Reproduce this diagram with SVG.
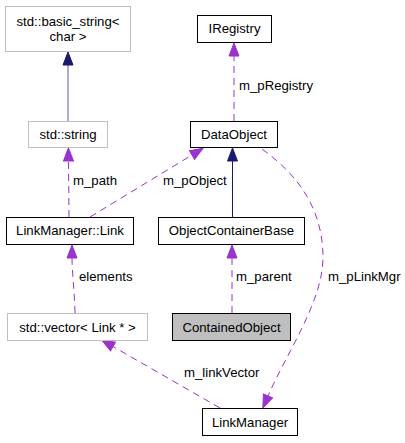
<svg xmlns="http://www.w3.org/2000/svg" width="405" height="443" viewBox="0 0 405 443">
<style>
text{font-family:"Liberation Sans",Arial,sans-serif;font-size:13.2px;fill:#000}
.n text{text-anchor:middle}
.box{fill:#fff;stroke:#000;stroke-width:1}
.gbox{fill:#fff;stroke:#bfbfbf;stroke-width:1}
.sel{fill:#bfbfbf;stroke:#000;stroke-width:1}
.use{fill:none;stroke:#9a32cd;stroke-width:1;stroke-dasharray:7,5;marker-end:url(#pa)}
.inh{fill:none;stroke:#191970;stroke-width:1;marker-end:url(#na)}
</style>
<defs>
<marker id="pa" markerUnits="userSpaceOnUse" markerWidth="14" markerHeight="11" refX="0" refY="5" orient="auto" overflow="visible"><path d="M0,0 L13,5 L0,10 z" fill="#9a32cd" stroke="#9a32cd" stroke-width="1"/></marker>
<marker id="na" markerUnits="userSpaceOnUse" markerWidth="14" markerHeight="11" refX="0" refY="5" orient="auto" overflow="visible"><path d="M0,0 L13,5 L0,10 z" fill="#191970" stroke="#191970" stroke-width="1"/></marker>
</defs>
<g id="connectors">
<path class="inh" d="M68,121 L68,65" stroke="#5a5aa0" style="stroke:#5a5aa0"/>
<path class="use" d="M234,121 L234,56"/>
<text x="239" y="90">m_pRegistry</text>
<path class="use" d="M69,217 L68.5,161"/>
<text x="73" y="185">m_path</text>
<path class="use" d="M90,217 L192,155"/>
<text x="163" y="185">m_pObject</text>
<path class="inh" d="M232.5,217 L232.5,161"/>
<path class="use" d="M232,313 L232,258"/>
<text x="236" y="281">m_parent</text>
<path class="use" d="M75,313 C74.5,290 72,272 72,258"/>
<text x="79" y="281">elements</text>
<path class="use" d="M220,408 L113,346.5"/>
<text x="184" y="377">m_linkVector</text>
<path class="use" d="M262,149 C305,180 322,215 323,255 C324,300 288,350 268,396"/>
<text x="328" y="281">m_pLinkMgr</text>
</g>
<g id="node-basic_string" class="n"><rect class="gbox" x="5.5" y="6.5" width="125" height="45"/><text x="68" y="25.5">std::basic_string&lt;</text><text x="68" y="40.5">char &gt;</text></g>
<g id="node-IRegistry" class="n"><rect class="box" x="197.5" y="15.5" width="74" height="27"/><text x="234.5" y="33">IRegistry</text></g>
<g id="node-string" class="n"><rect class="gbox" x="28.5" y="121.5" width="79" height="26"/><text x="68" y="139">std::string</text></g>
<g id="node-DataObject" class="n"><rect class="box" x="190.5" y="121.5" width="87" height="26"/><text x="234" y="139">DataObject</text></g>
<g id="node-Link" class="n"><rect class="box" x="6.5" y="217.5" width="127" height="27"/><text x="70" y="235">LinkManager::Link</text></g>
<g id="node-ObjectContainerBase" class="n"><rect class="box" x="158.5" y="217.5" width="146" height="27"/><text x="231.5" y="235">ObjectContainerBase</text></g>
<g id="node-vector" class="n"><rect class="gbox" x="7.5" y="313.5" width="140" height="27"/><text x="77.5" y="331.5">std::vector&lt; Link * &gt;</text></g>
<g id="node-ContainedObject" class="n"><rect class="sel" x="172.5" y="313.5" width="118" height="27"/><text x="231.5" y="331.5">ContainedObject</text></g>
<g id="node-LinkManager" class="n"><rect class="box" x="202.5" y="408.5" width="95" height="27"/><text x="250" y="426.5">LinkManager</text></g>
</svg>
